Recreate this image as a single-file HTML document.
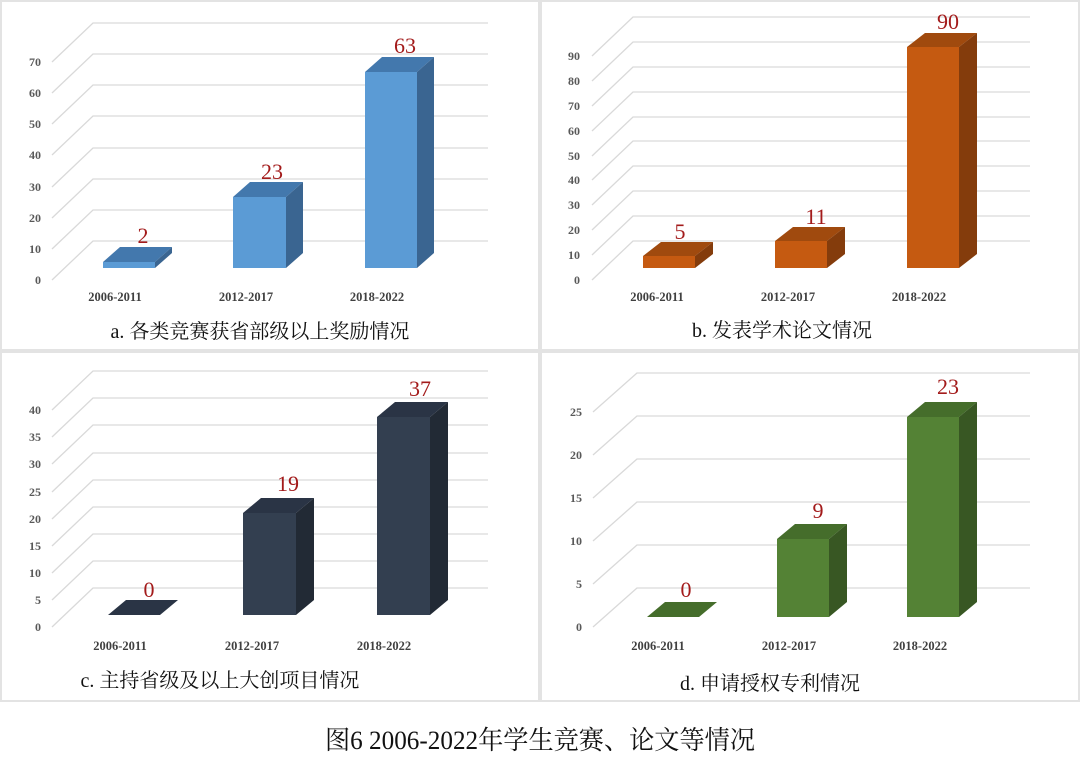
<!DOCTYPE html>
<html><head><meta charset="utf-8"><style>
html,body{margin:0;padding:0;background:#fff}
svg{display:block}
.g{stroke:#d9d9d9;stroke-width:1.3;fill:none}
.yl{font:bold 12px "Liberation Serif",serif;fill:#595959;text-anchor:end}
.cl{font:bold 12.5px "Liberation Serif",serif;fill:#404040;text-anchor:middle}
.vl{font:22px "Liberation Serif",serif;fill:#a31b1b;text-anchor:middle}
.tt{font:20px "Liberation Serif","Noto Serif CJK SC",serif;fill:#111}
</style></head><body>
<svg width="1080" height="783" viewBox="0 0 1080 783" xmlns="http://www.w3.org/2000/svg">
<rect width="1080" height="783" fill="#fff"/>
<rect x="1" y="1" width="538" height="349" fill="none" stroke="#e3e3e3" stroke-width="2"/>
<rect x="541" y="1" width="538" height="349" fill="none" stroke="#e3e3e3" stroke-width="2"/>
<rect x="1" y="352" width="538" height="349" fill="none" stroke="#e3e3e3" stroke-width="2"/>
<rect x="541" y="352" width="538" height="349" fill="none" stroke="#e3e3e3" stroke-width="2"/>

<!-- Panel a -->
<g>
<g class="g">
<polyline points="52,280 93,241 488,241"/><polyline points="52,249 93,210 488,210"/><polyline points="52,218 93,179 488,179"/><polyline points="52,187 93,148 488,148"/><polyline points="52,155 93,116 488,116"/><polyline points="52,124 93,85 488,85"/><polyline points="52,93 93,54 488,54"/><polyline points="52,62 93,23 488,23"/>
</g>
<g class="yl"><text x="41" y="284">0</text><text x="41" y="253">10</text><text x="41" y="222">20</text><text x="41" y="191">30</text><text x="41" y="159">40</text><text x="41" y="128">50</text><text x="41" y="97">60</text><text x="41" y="66">70</text></g>
<rect x="103" y="262" width="52" height="6" fill="#5b9bd5"/><polygon points="103,262 155,262 172,247 120,247" fill="#4378ad"/><polygon points="155,262 172,247 172,253 155,268" fill="#3a6591"/>
<rect x="233" y="197" width="53" height="71" fill="#5b9bd5"/><polygon points="233,197 286,197 303,182 250,182" fill="#4378ad"/><polygon points="286,197 303,182 303,253 286,268" fill="#3a6591"/>
<rect x="365" y="72" width="52" height="196" fill="#5b9bd5"/><polygon points="365,72 417,72 434,57 382,57" fill="#4378ad"/><polygon points="417,72 434,57 434,253 417,268" fill="#3a6591"/>
<text class="vl" x="143" y="243">2</text><text class="vl" x="272" y="179">23</text><text class="vl" x="405" y="53">63</text>
<text class="cl" x="115" y="301">2006-2011</text><text class="cl" x="246" y="301">2012-2017</text><text class="cl" x="377" y="301">2018-2022</text>
<text class="tt" x="260" y="338" text-anchor="middle">a. 各类竞赛获省部级以上奖励情况</text>
</g>

<!-- Panel b -->
<g>
<g class="g">
<polyline points="592,280 633,241 1030,241"/><polyline points="592,255 633,216 1030,216"/><polyline points="592,230 633,191 1030,191"/><polyline points="592,205 633,166 1030,166"/><polyline points="592,180 633,141 1030,141"/><polyline points="592,156 633,117 1030,117"/><polyline points="592,131 633,92 1030,92"/><polyline points="592,106 633,67 1030,67"/><polyline points="592,81 633,42 1030,42"/><polyline points="592,56 633,17 1030,17"/>
</g>
<g class="yl"><text x="580" y="284">0</text><text x="580" y="259">10</text><text x="580" y="234">20</text><text x="580" y="209">30</text><text x="580" y="184">40</text><text x="580" y="160">50</text><text x="580" y="135">60</text><text x="580" y="110">70</text><text x="580" y="85">80</text><text x="580" y="60">90</text></g>
<rect x="643" y="256" width="52" height="12" fill="#c55a11"/><polygon points="643,256 695,256 713,242 661,242" fill="#a04a0e"/><polygon points="695,256 713,242 713,254 695,268" fill="#843c0c"/>
<rect x="775" y="241" width="52" height="27" fill="#c55a11"/><polygon points="775,241 827,241 845,227 793,227" fill="#a04a0e"/><polygon points="827,241 845,227 845,254 827,268" fill="#843c0c"/>
<rect x="907" y="47" width="52" height="221" fill="#c55a11"/><polygon points="907,47 959,47 977,33 925,33" fill="#a04a0e"/><polygon points="959,47 977,33 977,254 959,268" fill="#843c0c"/>
<text class="vl" x="680" y="239">5</text><text class="vl" x="816" y="224">11</text><text class="vl" x="948" y="29">90</text>
<text class="cl" x="657" y="301">2006-2011</text><text class="cl" x="788" y="301">2012-2017</text><text class="cl" x="919" y="301">2018-2022</text>
<text class="tt" x="782" y="337" text-anchor="middle">b.  发表学术论文情况</text>
</g>

<!-- Panel c -->
<g>
<g class="g">
<polyline points="52,627 93,588 488,588"/><polyline points="52,600 93,561 488,561"/><polyline points="52,573 93,534 488,534"/><polyline points="52,546 93,507 488,507"/><polyline points="52,519 93,480 488,480"/><polyline points="52,492 93,453 488,453"/><polyline points="52,464 93,425 488,425"/><polyline points="52,437 93,398 488,398"/><polyline points="52,410 93,371 488,371"/>
</g>
<g class="yl"><text x="41" y="631">0</text><text x="41" y="604">5</text><text x="41" y="577">10</text><text x="41" y="550">15</text><text x="41" y="523">20</text><text x="41" y="496">25</text><text x="41" y="468">30</text><text x="41" y="441">35</text><text x="41" y="414">40</text></g>
<polygon points="108,615 160,615 178,600 126,600" fill="#2a3445"/>
<rect x="243" y="513" width="53" height="102" fill="#333f50"/><polygon points="243,513 296,513 314,498 261,498" fill="#2a3445"/><polygon points="296,513 314,498 314,600 296,615" fill="#222a35"/>
<rect x="377" y="417" width="53" height="198" fill="#333f50"/><polygon points="377,417 430,417 448,402 395,402" fill="#2a3445"/><polygon points="430,417 448,402 448,600 430,615" fill="#222a35"/>
<text class="vl" x="149" y="597">0</text><text class="vl" x="288" y="491">19</text><text class="vl" x="420" y="396">37</text>
<text class="cl" x="120" y="650">2006-2011</text><text class="cl" x="252" y="650">2012-2017</text><text class="cl" x="384" y="650">2018-2022</text>
<text class="tt" x="220" y="687" text-anchor="middle">c. 主持省级及以上大创项目情况</text>
</g>

<!-- Panel d -->
<g>
<g class="g">
<polyline points="593,627 637,588 1030,588"/><polyline points="593,584 637,545 1030,545"/><polyline points="593,541 637,502 1030,502"/><polyline points="593,498 637,459 1030,459"/><polyline points="593,455 637,416 1030,416"/><polyline points="593,412 637,373 1030,373"/>
</g>
<g class="yl"><text x="582" y="631">0</text><text x="582" y="588">5</text><text x="582" y="545">10</text><text x="582" y="502">15</text><text x="582" y="459">20</text><text x="582" y="416">25</text></g>
<polygon points="647,617 699,617 717,602 665,602" fill="#456d2b"/>
<rect x="777" y="539" width="52" height="78" fill="#548235"/><polygon points="777,539 829,539 847,524 795,524" fill="#456d2b"/><polygon points="829,539 847,524 847,602 829,617" fill="#385723"/>
<rect x="907" y="417" width="52" height="200" fill="#548235"/><polygon points="907,417 959,417 977,402 925,402" fill="#456d2b"/><polygon points="959,417 977,402 977,602 959,617" fill="#385723"/>
<text class="vl" x="686" y="597">0</text><text class="vl" x="818" y="518">9</text><text class="vl" x="948" y="394">23</text>
<text class="cl" x="658" y="650">2006-2011</text><text class="cl" x="789" y="650">2012-2017</text><text class="cl" x="920" y="650">2018-2022</text>
<text class="tt" x="770" y="690" text-anchor="middle">d. 申请授权专利情况</text>
</g>

<text x="540" y="749" text-anchor="middle" font-family="'Liberation Serif','Noto Serif CJK SC',serif" font-size="26" fill="#111" textLength="430" lengthAdjust="spacingAndGlyphs">图6 2006-2022年学生竞赛、论文等情况</text>
</svg>
</body></html>
